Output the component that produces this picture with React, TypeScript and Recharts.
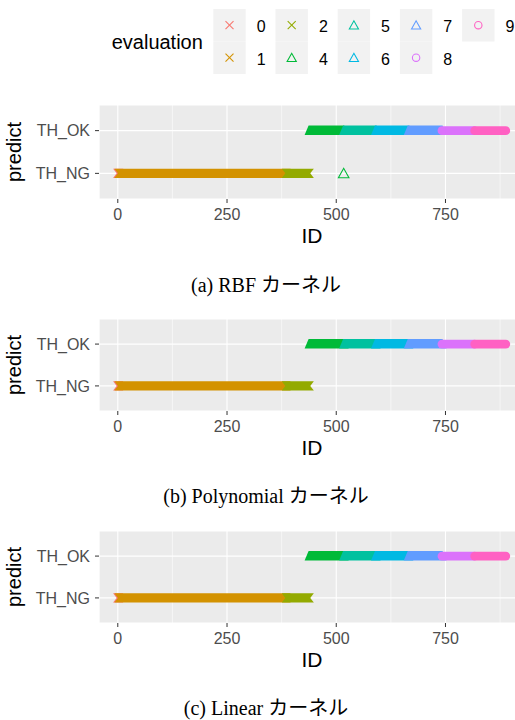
import React from "react";
import { CartesianGrid, Scatter, ScatterChart, XAxis, YAxis } from "recharts";

const evaluationLevels = ["0", "1", "2", "4", "5", "6", "7", "8", "9"];
const evaluationColors = ["#F8766D", "#D39200", "#93AA00", "#00BA38", "#00C19F", "#00B9E3", "#619CFF", "#DB72FB", "#FF61C3"];
const evaluationShapes = ["cross", "cross", "cross", "triangle", "triangle", "triangle", "triangle", "circle", "circle"];
const predictLevels = ["TH_NG", "TH_OK"];
const idTicks = [0, 250, 500, 750];
const idMinorTicks = [125, 375, 625, 875];
const idDomain = [-43, 932];

// runs of consecutive IDs: evaluation class, predicted label, first and last ID
const rbfEvaluation = ["0", "1", "2", "4", "4", "5", "6", "7", "8", "9"];
const rbfPredict = ["TH_NG", "TH_NG", "TH_NG", "TH_OK", "TH_NG", "TH_OK", "TH_OK", "TH_OK", "TH_OK", "TH_OK"];
const rbfFrom = [0, 3, 386, 439, 517, 518, 591, 666, 742, 817];
const rbfTo = [2, 385, 438, 516, 517, 590, 665, 741, 816, 888];

const polyEvaluation = ["0", "1", "2", "4", "5", "6", "7", "8", "9"];
const polyPredict = ["TH_NG", "TH_NG", "TH_NG", "TH_OK", "TH_OK", "TH_OK", "TH_OK", "TH_OK", "TH_OK"];
const polyFrom = [0, 3, 386, 439, 518, 591, 666, 742, 817];
const polyTo = [2, 385, 438, 517, 590, 665, 741, 816, 888];

const linearEvaluation = ["0", "1", "2", "4", "5", "6", "7", "8", "9"];
const linearPredict = ["TH_NG", "TH_NG", "TH_NG", "TH_OK", "TH_OK", "TH_OK", "TH_OK", "TH_OK", "TH_OK"];
const linearFrom = [0, 3, 386, 439, 518, 591, 666, 742, 817];
const linearTo = [2, 385, 438, 517, 590, 665, 741, 816, 888];

const SANS = "'Liberation Sans', Arial, Helvetica, sans-serif";
const SERIF = "'Liberation Serif', 'DejaVu Serif', 'Noto Sans CJK JP', serif";

type Run = { evaluation: string; predict: string; from: number; to: number };

function buildRuns(evals: string[], predicts: string[], froms: number[], tos: number[]): Run[] {
  return evals.map((e, i) => ({ evaluation: e, predict: predicts[i], from: froms[i], to: tos[i] }));
}

function Marker({ shape, cx, cy, color, s = 1 }: { shape: string; cx: number; cy: number; color: string; s?: number }) {
  if (shape === "cross") {
    const h = 4 * s;
    return (
      <g stroke={color} strokeWidth={1.1}>
        <line x1={cx - h} y1={cy - h} x2={cx + h} y2={cy + h} />
        <line x1={cx - h} y1={cy + h} x2={cx + h} y2={cy - h} />
      </g>
    );
  }
  if (shape === "triangle") {
    const w = 4.6 * s;
    return (
      <polygon
        points={`${cx - w},${cy + 3.8 * s} ${cx},${cy - 4.4 * s} ${cx + w},${cy + 3.8 * s}`}
        fill="none"
        stroke={color}
        strokeWidth={1.1}
      />
    );
  }
  return <circle cx={cx} cy={cy} r={3.7 * s} fill="none" stroke={color} strokeWidth={1.1} />;
}

// dense runs of markers merge into a solid band
function bandLine(shape: string, color: string) {
  return (props: any) => {
    const pts = props.points || [];
    if (pts.length < 2) return <g />;
    const x1 = pts[0].x;
    const x2 = pts[pts.length - 1].x;
    const y = pts[0].y;
    if (shape === "cross") {
      const h = 4.7;
      const d = 3.6;
      const p = `M${x1 - h},${y - h} L${x2 + h},${y - h} L${x2 + h - d},${y} L${x2 + h},${y + h} L${x1 - h},${y + h} L${x1 - h + d},${y} Z`;
      return <path d={p} fill={color} />;
    }
    if (shape === "triangle") {
      const p = `M${x1 - 5},${y + 4.4} L${x1 - 1},${y - 5.2} L${x2 + 1},${y - 5.2} L${x2 + 5},${y + 4.4} Z`;
      return <path d={p} fill={color} />;
    }
    const r = 4.4;
    return <rect x={x1 - r} y={y - r} width={x2 - x1 + 2 * r} height={2 * r} rx={r} ry={r} fill={color} />;
  };
}

function Panel({ runs, top, plotHeight }: { runs: Run[]; top: number; plotHeight: number }) {
  return (
    <div style={{ position: "absolute", left: 0, top: top - 10 }}>
      <ScatterChart width={525} height={plotHeight + 60} margin={{ top: 10, right: 0, bottom: 0, left: 0 }}>
        <CartesianGrid fill="#EBEBEB" stroke="#FFFFFF" strokeWidth={1.1} />
        <CartesianGrid xAxisId="minor" horizontal={false} stroke="#FFFFFF" strokeWidth={0.55} />
        <XAxis
          type="number"
          dataKey="id"
          domain={idDomain}
          ticks={idTicks}
          allowDataOverflow
          height={50}
          tickSize={4}
          tickMargin={6}
          axisLine={false}
          tickLine={{ stroke: "#333333" }}
          tick={{ fill: "#4D4D4D", fontSize: 16 }}
          label={{ value: "ID", position: "insideBottom", offset: 6, style: { fontSize: 21, fill: "#000000" } }}
        />
        <XAxis xAxisId="minor" type="number" dataKey="id" domain={idDomain} ticks={idMinorTicks} allowDataOverflow hide />
        <YAxis
          type="number"
          dataKey="y"
          domain={[0.4, 2.6]}
          ticks={[1, 2]}
          allowDataOverflow
          width={99}
          tickSize={4}
          tickMargin={5}
          axisLine={false}
          tickLine={{ stroke: "#333333" }}
          tick={{ fill: "#4D4D4D", fontSize: 16 }}
          tickFormatter={(v: number) => predictLevels[v - 1]}
          label={{
            value: "predict",
            angle: -90,
            position: "insideLeft",
            offset: 14,
            style: { textAnchor: "middle", fontSize: 20, fill: "#000000" },
          }}
        />
        {runs.map((run, i) => {
          const k = evaluationLevels.indexOf(run.evaluation);
          const color = evaluationColors[k];
          const shape = evaluationShapes[k];
          const y = predictLevels.indexOf(run.predict) + 1;
          const single = run.from === run.to;
          const data = single ? [{ id: run.from, y }] : [{ id: run.from, y }, { id: run.to, y }];
          return (
            <Scatter
              key={i}
              data={data}
              fill={color}
              line={bandLine(shape, color)}
              lineType="joint"
              shape={(p: any) => (single ? <Marker shape={shape} cx={p.cx} cy={p.cy} color={color} s={1.15} /> : <g />)}
              isAnimationActive={false}
            />
          );
        })}
      </ScatterChart>
    </div>
  );
}

function Legend() {
  return (
    <g fontFamily={SANS}>
      <text x={111.7} y={49} fontSize={20} fill="#000">
        evaluation
      </text>
      {evaluationLevels.map((lv, i) => {
        const col = Math.floor(i / 2);
        const row = i % 2;
        const x0 = 213.3 + col * 62.2;
        const y0 = 9 + row * 32.5;
        return (
          <g key={lv}>
            <rect x={x0} y={y0} width={32.4} height={32.5} fill="#F2F2F2" />
            <Marker shape={evaluationShapes[i]} cx={x0 + 16.2} cy={y0 + 16.2} color={evaluationColors[i]} />
            <text x={x0 + 43.4} y={y0 + 23.3} fontSize={16} fill="#000">
              {lv}
            </text>
          </g>
        );
      })}
    </g>
  );
}

function Caption({ y, tag, text }: { y: number; tag: string; text: string }) {
  return (
    <text x={266} y={y} textAnchor="middle" fontFamily={SERIF} fontSize={20} fill="#000">
      {tag + " " + text}
    </text>
  );
}

export default function App() {
  const rbf = buildRuns(rbfEvaluation, rbfPredict, rbfFrom, rbfTo);
  const poly = buildRuns(polyEvaluation, polyPredict, polyFrom, polyTo);
  const linear = buildRuns(linearEvaluation, linearPredict, linearFrom, linearTo);
  return (
    <div
      style={{
        position: "absolute",
        left: 0,
        top: 0,
        width: 515,
        height: 720,
        overflow: "hidden",
        background: "#FFFFFF",
        fontFamily: SANS,
      }}
    >
      <svg width={515} height={720} style={{ position: "absolute", left: 0, top: 0 }}>
        <Legend />
        <Caption y={291.5} tag="(a)" text="RBF カーネル" />
        <Caption y={502.5} tag="(b)" text="Polynomial カーネル" />
        <Caption y={715} tag="(c)" text="Linear カーネル" />
      </svg>
      <Panel runs={rbf} top={105} plotHeight={94} />
      <Panel runs={poly} top={319} plotHeight={92} />
      <Panel runs={linear} top={531} plotHeight={92} />
    </div>
  );
}
